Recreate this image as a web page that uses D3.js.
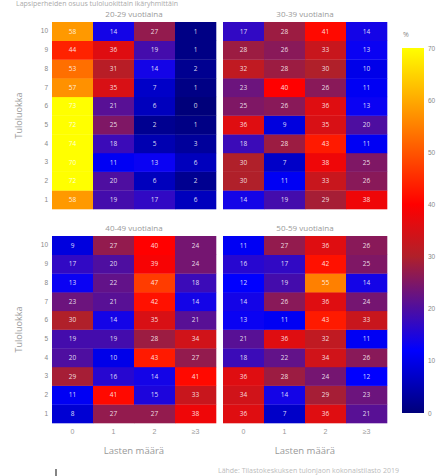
<!DOCTYPE html>
<html><head><meta charset="utf-8">
<script src="https://cdn.jsdelivr.net/npm/d3@7"></script>
<style>body{margin:0;background:#fff;}svg{display:block;font-family:"Open Sans",Arial,sans-serif;}</style>
</head><body>
<svg id="c" width="441" height="476"></svg>
<script>
const panels = ["20-29 vuotiaina","30-39 vuotiaina","40-49 vuotiaina","50-59 vuotiaina"];
const childCats = ["0","1","2","≥3"];
const incomeClasses = ["1","2","3","4","5","6","7","8","9","10"];
// values per panel: rows = income class 1..10, columns = children 0,1,2,>=3 (%)
const v2029 = [
  [58,19,17,6],[72,20,6,2],[70,11,13,6],[74,18,5,3],[72,25,2,1],
  [73,21,6,0],[57,35,7,1],[53,31,14,2],[44,36,19,1],[58,14,27,1]];
const v3039 = [
  [14,19,29,38],[30,11,33,26],[30,7,38,25],[18,28,43,11],[36,9,35,20],
  [25,26,36,13],[23,40,26,11],[32,28,30,10],[28,26,33,13],[17,28,41,14]];
const v4049 = [
  [8,27,27,38],[11,41,15,33],[29,16,14,41],[20,10,43,27],[19,19,28,34],
  [30,14,35,21],[23,21,42,14],[13,22,47,18],[17,20,39,24],[9,27,40,24]];
const v5059 = [
  [36,7,36,21],[34,14,29,23],[36,28,24,12],[18,22,34,26],[21,36,32,11],
  [13,11,43,33],[14,26,36,24],[12,19,55,14],[16,17,42,25],[11,27,36,26]];
const panelValues = [v2029, v3039, v4049, v5059];
const cbTicks = [0,10,20,30,40,50,60,70];

const svg = d3.select("#c");
const color = d3.scaleLinear().domain([0,12,30,40,70])
  .range(["#00007a","#0000ff","#b0202a","#ff0000","#ffff00"]).clamp(true);

// title (small, at very top)
svg.append("text").attr("x",16).attr("y",6).attr("font-size",7).attr("fill","#aaa")
  .text("Lapsiperheiden osuus tuloluokittain ikäryhmittäin");

const lefts = [52,223], tops = [22,236];
const pw = 164, ph = 187;
panels.forEach((name,i)=>{
  const col = i%2, row = Math.floor(i/2);
  const g = svg.append("g").attr("transform",`translate(${lefts[col]},${tops[row]})`);
  const x = d3.scaleBand().domain(childCats).range([0,pw]);
  const y = d3.scaleBand().domain(incomeClasses).range([ph,0]);
  const cells = [];
  panelValues[i].forEach((r,ri)=> r.forEach((val,ci)=> cells.push({inc:incomeClasses[ri], ch:childCats[ci], val})));
  g.selectAll("rect").data(cells).join("rect")
    .attr("x",d=>x(d.ch)).attr("y",d=>y(d.inc))
    .attr("width",x.bandwidth()+0.3).attr("height",y.bandwidth()+0.3)
    .attr("fill",d=>color(d.val));
  g.selectAll("text.v").data(cells).join("text").attr("class","v")
    .attr("x",d=>x(d.ch)+x.bandwidth()/2).attr("y",d=>y(d.inc)+y.bandwidth()/2)
    .attr("dy","0.35em").attr("text-anchor","middle").attr("font-size",6.5)
    .attr("fill","#fff").attr("fill-opacity",0.85).text(d=>d.val);
  g.append("text").attr("x",pw/2).attr("y",-5).attr("text-anchor","middle")
    .attr("font-size",8).attr("fill","#999").text(name);
  if(col===0){
    const ay = g.append("g").call(d3.axisLeft(y).tickSize(0).tickPadding(4));
    ay.select(".domain").remove();
    ay.selectAll("text").attr("font-size",6.5).attr("fill","#888");
    g.append("text").attr("transform",`translate(-30,${ph/2}) rotate(-90)`)
      .attr("text-anchor","middle").attr("font-size",9).attr("fill","#999").text("Tuloluokka");
  }
  if(row===1){
    const ax = g.append("g").attr("transform",`translate(0,${ph})`)
      .call(d3.axisBottom(x).tickSize(0).tickPadding(6));
    ax.select(".domain").remove();
    ax.selectAll("text").attr("font-size",7).attr("fill","#999");
    g.append("text").attr("x",pw/2).attr("y",ph+31).attr("text-anchor","middle")
      .attr("font-size",9.5).attr("fill","#999").text("Lasten määrä");
  }
});

// colorbar
const cbX = 402, cbW = 22, cbTop = 48, cbBot = 413;
const cy = d3.scaleLinear().domain([0,70]).range([cbBot,cbTop]);
const defs = svg.append("defs");
const grad = defs.append("linearGradient").attr("id","cbg").attr("x1",0).attr("x2",0).attr("y1",1).attr("y2",0);
d3.range(0,71,2).forEach(t=>grad.append("stop").attr("offset",t/70).attr("stop-color",color(t)));
svg.append("rect").attr("x",cbX).attr("y",cbTop).attr("width",cbW).attr("height",cbBot-cbTop).attr("fill","url(#cbg)");
const acb = svg.append("g").attr("transform",`translate(${cbX+cbW},0)`)
  .call(d3.axisRight(cy).tickValues(cbTicks).tickSize(0).tickPadding(4));
acb.select(".domain").remove();
acb.selectAll("text").attr("font-size",6.5).attr("fill","#888");
svg.append("text").attr("x",403).attr("y",37).attr("font-size",7).attr("fill","#888").text("%");

// source
svg.append("text").attr("x",218).attr("y",473).attr("font-size",7).attr("fill","#bbb")
  .text("Lähde: Tilastokeskuksen tulonjaon kokonaistilasto 2019");
svg.append("line").attr("x1",56).attr("x2",56).attr("y1",469).attr("y2",476).attr("stroke","#333").attr("stroke-width",1.2);
</script>
</body></html>
